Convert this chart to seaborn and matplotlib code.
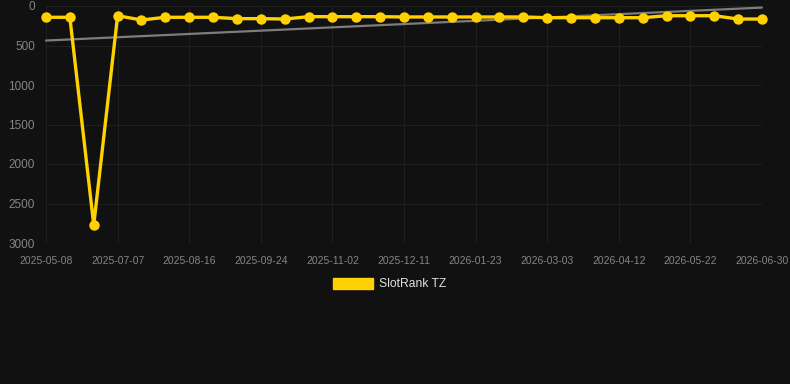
import numpy as np
import pandas as pd
import matplotlib
matplotlib.use("Agg")
import matplotlib.pyplot as plt
from matplotlib.patches import Patch
import seaborn as sns

# ---- data ----
dates = [
    "2025-05-08", "2025-05-28", "2025-06-17", "2025-07-07", "2025-07-20", "2025-08-03",
    "2025-08-16", "2025-08-29", "2025-09-11", "2025-09-24", "2025-10-07", "2025-10-20",
    "2025-11-02", "2025-11-15", "2025-11-28", "2025-12-11", "2025-12-25", "2026-01-09",
    "2026-01-23", "2026-02-05", "2026-02-18", "2026-03-03", "2026-03-16", "2026-03-29",
    "2026-04-12", "2026-04-25", "2026-05-08", "2026-05-22", "2026-06-04", "2026-06-17",
    "2026-06-30",
]
ranks = [143, 143, 2772, 123, 177, 143, 143, 143, 160, 160, 165, 135,
         135, 135, 135, 139, 139, 139, 139, 139, 139, 148, 148, 148,
         148, 148, 123, 123, 123, 165, 165]
tick_labels = ["2025-05-08", "2025-07-07", "2025-08-16", "2025-09-24", "2025-11-02",
               "2025-12-11", "2026-01-23", "2026-03-03", "2026-04-12", "2026-05-22",
               "2026-06-30"]
series_name = "SlotRank TZ"
y_ticks = [0, 500, 1000, 1500, 2000, 2500, 3000]

df = pd.DataFrame({"date": dates, "rank": ranks})
df["idx"] = np.arange(len(df))

# ---- style ----
bg = "#111111"
gold = "#FFD100"
grid_c = "#1f1f1f"
tick_c = "#858585"

sns.set_theme(style="dark")
plt.rcParams["font.family"] = ["Liberation Sans", "DejaVu Sans"]

fig = plt.figure(figsize=(7.9, 3.84), dpi=100, facecolor=bg)
ax = fig.add_axes([46 / 790, 1 - 243 / 384, (762 - 46) / 790, (243 - 6) / 384])
ax.set_facecolor(bg)

# trend line (linear regression over the series)
coef = np.polyfit(df["idx"], df["rank"], 1)
trend = np.polyval(coef, df["idx"])
ax.plot(df["idx"], trend, color="#7d7d7d", lw=1.6, zorder=2, clip_on=False)

sns.lineplot(data=df, x="idx", y="rank", ax=ax, color=gold, lw=2.4,
             marker="o", markersize=7.5, markeredgewidth=0, markeredgecolor=gold,
             solid_joinstyle="miter", clip_on=False, zorder=3, legend=False)

ax.set_xlim(0, len(df) - 1)
ax.set_ylim(3000, 0)
tick_pos = [dates.index(t) for t in tick_labels]
ax.set_xticks(tick_pos)
ax.set_xticklabels(tick_labels)
ax.set_yticks(y_ticks)
ax.set_yticklabels([str(v) for v in y_ticks])
ax.tick_params(axis="x", colors=tick_c, labelsize=7.5, length=0, pad=9)
ax.tick_params(axis="y", colors=tick_c, labelsize=8.5, length=0, pad=8)
ax.grid(True, color=grid_c, lw=0.8)
for s in ax.spines.values():
    s.set_visible(False)
ax.set_xlabel("")
ax.set_ylabel("")

leg = fig.legend(handles=[Patch(facecolor=gold, edgecolor=gold, label=series_name)],
                 loc="center", bbox_to_anchor=(390 / 790, 1 - 284 / 384),
                 frameon=False, fontsize=8.7, handlelength=3.3, handleheight=1.0,
                 handletextpad=0.5)
for t in leg.get_texts():
    t.set_color("#e0e0e0")

fig.savefig("out.png", dpi=100, facecolor=bg)
